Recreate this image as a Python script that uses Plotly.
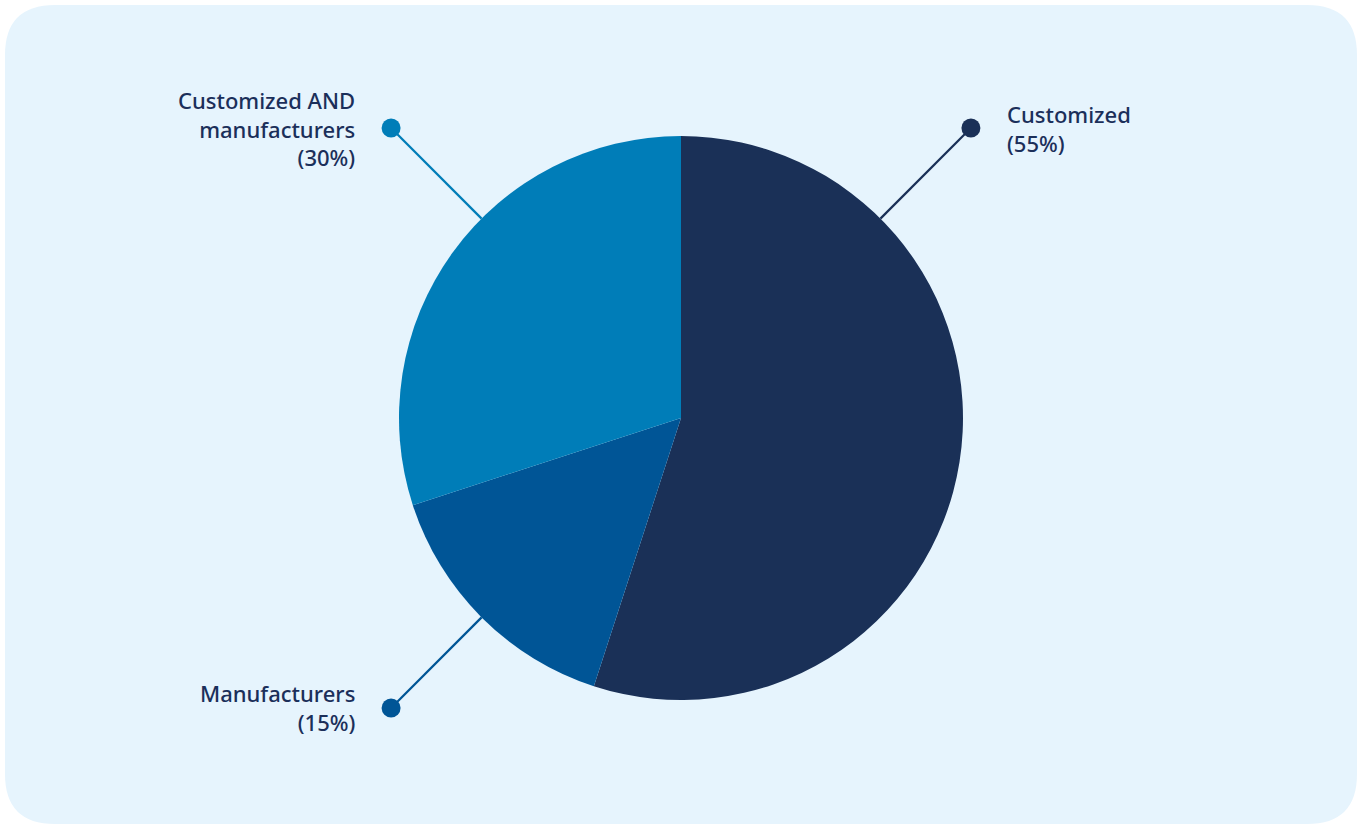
import math
import plotly.graph_objects as go

# Share of respondents by type
labels = ["Customized", "Manufacturers", "Customized AND manufacturers"]
values = [55, 15, 30]
callout_text = ["Customized<br>(55%)", "Manufacturers<br>(15%)", "Customized AND<br>manufacturers<br>(30%)"]
colors = ["#1a3057", "#005596", "#007db8"]
callout_angle = [45, 225, 315]  # degrees clockwise from 12 o'clock

W, H = 1364, 825
CX, CY, R = 681, 418, 282
DOT_R = 410
TEXT_COLOR = "#1b2f5a"
FONT = "Noto Sans"

fig = go.Figure()

# Pie sized so its circle sits at (CX, CY) with radius R
fig.add_trace(go.Pie(
    labels=labels,
    values=values,
    sort=False,
    direction="clockwise",
    rotation=0,
    marker=dict(colors=colors, line=dict(width=0)),
    textinfo="none",
    hoverinfo="label+percent",
    showlegend=False,
    domain=dict(x=[(CX - R) / W, (CX + R) / W],
                y=[(H - CY - R) / H, (H - CY + R) / H]),
))

shapes = []
# rounded panel
x0, y0, x1, y1, rr = 5, 5, 1357, 824, 50
panel = (f"M{x0+rr},{y0} L{x1-rr},{y0} Q{x1},{y0} {x1},{y0+rr} "
         f"L{x1},{y1-rr} Q{x1},{y1} {x1-rr},{y1} L{x0+rr},{y1} "
         f"Q{x0},{y1} {x0},{y1-rr} L{x0},{y0+rr} Q{x0},{y0} {x0+rr},{y0} Z")
shapes.append(dict(type="path", path=panel, xref="x", yref="y",
                   fillcolor="#e6f4fd", line=dict(width=0), layer="below"))

annotations = []
for txt, col, ang in zip(callout_text, colors, callout_angle):
    a = math.radians(ang)
    sx, sy = CX + R * math.sin(a), CY - R * math.cos(a)
    dx, dy = CX + DOT_R * math.sin(a), CY - DOT_R * math.cos(a)
    fig.add_trace(go.Scatter(
        x=[sx, dx], y=[sy, dy], mode="lines",
        line=dict(color=col, width=2.2), hoverinfo="skip", showlegend=False))
    fig.add_trace(go.Scatter(
        x=[dx], y=[dy], mode="markers",
        marker=dict(color=col, size=19, line=dict(width=0)),
        hoverinfo="skip", showlegend=False))
    right = math.sin(a) > 0
    annotations.append(dict(
        x=dx + (34 if right else -34), y=dy, xref="x", yref="y",
        text=txt, showarrow=False,
        xanchor="left" if right else "right", yanchor="middle",
        align="left" if right else "right",
        font=dict(family=FONT, size=22, color=TEXT_COLOR, weight=500),
    ))

fig.update_layout(
    width=W, height=H,
    margin=dict(l=0, r=0, t=0, b=0),
    paper_bgcolor="white",
    plot_bgcolor="rgba(0,0,0,0)",
    xaxis=dict(range=[0, W], visible=False, domain=[0, 1], fixedrange=True),
    yaxis=dict(range=[H, 0], visible=False, domain=[0, 1], fixedrange=True),
    shapes=shapes,
    annotations=annotations,
)

fig.write_html("out.html")
